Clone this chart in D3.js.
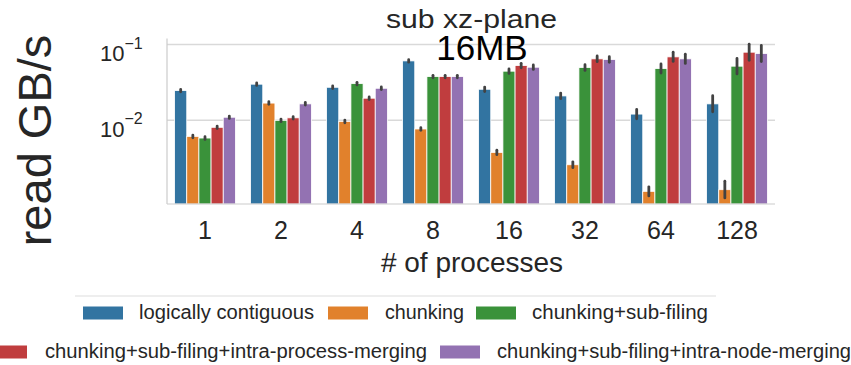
<!DOCTYPE html>
<html>
<head>
<meta charset="utf-8">
<script src="https://cdn.jsdelivr.net/npm/d3@7"></script>
<style>
  body { margin: 0; background: #fff; }
  text { font-family: "Liberation Sans", Arial, sans-serif; fill: #262626; }
</style>
</head>
<body>
<svg id="chart" width="851" height="365"></svg>
<script>
// process counts on the x axis
var procs = ["1", "2", "4", "8", "16", "32", "64", "128"];
var seriesNames = ["logically contiguous", "chunking", "chunking+sub-filing",
  "chunking+sub-filing+intra-process-merging", "chunking+sub-filing+intra-node-merging"];
var colors = ["#3274a1", "#e1812c", "#3a923a", "#c03d3e", "#9372b2"];

// mean read bandwidth (GB/s), one array per series
var contiguous   = [0.0247, 0.0300, 0.0273, 0.0608, 0.0257, 0.0210, 0.0121, 0.0165];
var chunking     = [0.00615, 0.0169, 0.0097, 0.0077, 0.00378, 0.0026, 0.00116, 0.00122];
var subFiling    = [0.00585, 0.0100, 0.0305, 0.0378, 0.0445, 0.0497, 0.0482, 0.0518];
var procMerging  = [0.0081, 0.0108, 0.0196, 0.0378, 0.0528, 0.0647, 0.0687, 0.0792];
var nodeMerging  = [0.0110, 0.0165, 0.0265, 0.0378, 0.0502, 0.0634, 0.0647, 0.0760];

// confidence interval ends
var contiguousLo  = [0.0238, 0.0289, 0.0263, 0.0585, 0.0240, 0.0193, 0.0105, 0.0130];
var contiguousHi  = [0.0256, 0.0312, 0.0284, 0.0632, 0.0275, 0.0229, 0.0139, 0.0211];
var chunkingLo    = [0.0059, 0.0163, 0.0093, 0.0074, 0.00353, 0.00238, 0.00101, 0.00095];
var chunkingHi    = [0.0064, 0.0176, 0.0101, 0.0080, 0.00404, 0.00284, 0.00133, 0.00158];
var subFilingLo   = [0.0056, 0.0096, 0.0293, 0.0364, 0.0416, 0.0456, 0.0420, 0.0410];
var subFilingHi   = [0.0061, 0.0104, 0.0317, 0.0393, 0.0476, 0.0542, 0.0553, 0.0655];
var procMergingLo = [0.0078, 0.0104, 0.0188, 0.0364, 0.0494, 0.0594, 0.0598, 0.0620];
var procMergingHi = [0.0084, 0.0112, 0.0204, 0.0393, 0.0565, 0.0705, 0.0790, 0.1010];
var nodeMergingLo = [0.0106, 0.0159, 0.0255, 0.0364, 0.0469, 0.0582, 0.0563, 0.0595];
var nodeMergingHi = [0.0114, 0.0172, 0.0276, 0.0393, 0.0537, 0.0691, 0.0744, 0.0970];

var yTicks = [0.01, 0.1];

var means = [contiguous, chunking, subFiling, procMerging, nodeMerging];
var lows  = [contiguousLo, chunkingLo, subFilingLo, procMergingLo, nodeMergingLo];
var highs = [contiguousHi, chunkingHi, subFilingHi, procMergingHi, nodeMergingHi];

var svg = d3.select("#chart");
var plotL = 167, plotR = 775, plotT = 38.5, plotB = 204;

var x0 = d3.scaleBand().domain(procs).range([plotL, plotR]).paddingInner(0.2).paddingOuter(0.1);
var x1 = d3.scaleBand().domain(d3.range(seriesNames.length)).range([0, x0.bandwidth()]);
var y = d3.scaleLog().domain([0.00079, 0.12]).range([plotB, plotT]);

// grid
svg.append("g").selectAll("line").data(yTicks).join("line")
  .attr("x1", plotL).attr("x2", plotR)
  .attr("y1", function(d){ return y(d); }).attr("y2", function(d){ return y(d); })
  .attr("stroke", "#d9d9d9").attr("stroke-width", 1.5);

// bars
var rows = [];
procs.forEach(function(p, i){
  means.forEach(function(s, j){
    rows.push({p: p, s: j, v: s[i], lo: lows[j][i], hi: highs[j][i]});
  });
});

svg.append("g").selectAll("rect").data(rows).join("rect")
  .attr("x", function(d){ return x0(d.p) + x1(d.s); })
  .attr("width", x1.bandwidth())
  .attr("y", function(d){ return y(d.v); })
  .attr("height", function(d){ return plotB - y(d.v); })
  .attr("fill", function(d){ return colors[d.s]; })
  .attr("stroke", "#fff").attr("stroke-width", 0.8);

// error bars
svg.append("g").selectAll("line").data(rows).join("line")
  .attr("x1", function(d){ return x0(d.p) + x1(d.s) + x1.bandwidth() / 2; })
  .attr("x2", function(d){ return x0(d.p) + x1(d.s) + x1.bandwidth() / 2; })
  .attr("y1", function(d){ return y(d.lo); })
  .attr("y2", function(d){ return y(d.hi); })
  .attr("stroke", "#424242").attr("stroke-width", 2.8).attr("stroke-linecap", "round");

// spines
svg.append("line").attr("x1", plotL).attr("x2", plotL).attr("y1", plotT).attr("y2", plotB)
  .attr("stroke", "#cccccc").attr("stroke-width", 1.2);
svg.append("line").attr("x1", plotL).attr("x2", plotR).attr("y1", plotB).attr("y2", plotB)
  .attr("stroke", "#cccccc").attr("stroke-width", 1.2);

// x tick labels
svg.append("g").selectAll("text").data(procs).join("text")
  .attr("x", function(d){ return x0(d) + x0.bandwidth() / 2; })
  .attr("y", 239)
  .attr("text-anchor", "middle").style("font-size", "25px")
  .text(function(d){ return d; });

// y tick labels (10 with superscript exponent)
var yl = svg.append("g").selectAll("text").data(yTicks).join("text")
  .attr("x", 100).attr("y", function(d){ return y(d) + 16.5; })
  .style("font-size", "22px");
yl.append("tspan").text("10");
yl.append("tspan").attr("dy", -12.5).style("font-size", "16px")
  .text(function(d){ return "\u2212" + Math.round(-Math.log10(d)); });

svg.append("text").attr("x", 472).attr("y", 272).attr("text-anchor", "middle")
  .style("font-size", "28px").text("# of processes");

svg.append("text").attr("transform", "translate(51,140.5) rotate(-90)")
  .attr("text-anchor", "middle").style("font-size", "47px").text("read GB/s");

// title
svg.append("text").attr("x", 471.5).attr("y", 28).attr("text-anchor", "middle")
  .style("font-size", "26px").attr("textLength", 171).attr("lengthAdjust", "spacingAndGlyphs")
  .text("sub xz-plane");
svg.append("text").attr("x", 482).attr("y", 60).attr("text-anchor", "middle")
  .style("font-size", "35px").style("fill", "#000").text("16MB");

// legend
svg.append("line").attr("x1", 75).attr("x2", 716).attr("y1", 296).attr("y2", 296)
  .attr("stroke", "#dddddd").attr("stroke-width", 1.2);
var legPos = [
  {sx: 83, tx: 139, y: 319, w: 175},
  {sx: 328, tx: 385, y: 319, w: 79},
  {sx: 476, tx: 532, y: 319, w: 176},
  {sx: -13, tx: 45, y: 358, w: 382},
  {sx: 440, tx: 497, y: 358, w: 354}
];
var leg = svg.append("g").selectAll("g").data(seriesNames).join("g");
leg.append("rect")
  .attr("x", function(d, i){ return legPos[i].sx; })
  .attr("y", function(d, i){ return legPos[i].y - 12.5; })
  .attr("width", 40).attr("height", 13)
  .attr("fill", function(d, i){ return colors[i]; });
leg.append("text")
  .attr("x", function(d, i){ return legPos[i].tx; })
  .attr("y", function(d, i){ return legPos[i].y; })
  .attr("textLength", function(d, i){ return legPos[i].w; })
  .attr("lengthAdjust", "spacingAndGlyphs")
  .style("font-size", "20px")
  .text(function(d){ return d; });
</script>
</body>
</html>
